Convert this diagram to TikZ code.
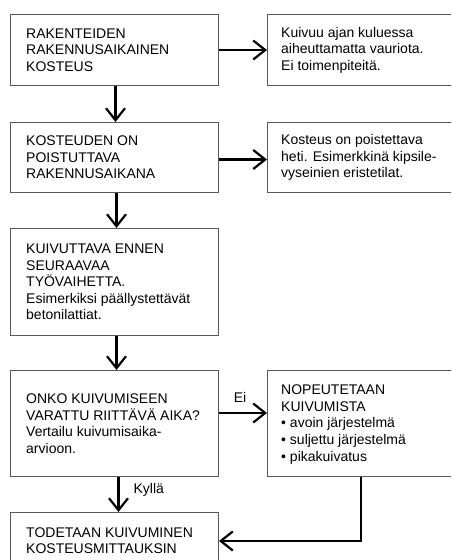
\documentclass[tikz,border=0pt]{standalone}
\usepackage{fontspec}
\setmainfont{Liberation Sans}
\usetikzlibrary{arrows.meta}
\tikzset{
  boxnode/.style={draw=black!65, line width=1pt, inner sep=0pt, anchor=north west},
  txt/.style={anchor=west, align=left, inner sep=0pt, font=\fontsize{14pt}{16.6pt}\selectfont},
  lbl/.style={inner sep=0pt, font=\fontsize{14pt}{16.6pt}\selectfont},
  conn/.style={line width=2.2pt, -{Straight Barb[length=12pt,width=19pt]}}
}
\begin{document}
\begin{tikzpicture}[x=1pt,y=-1pt]
\useasboundingbox (0,0) rectangle (451,560);
\clip (0,0) rectangle (451,560);
% boxes
\node[boxnode, minimum width=208pt, minimum height=71pt] (b1) at (10,14) {};
\node[boxnode, minimum width=200pt, minimum height=71pt] (r1) at (267,14) {};
\node[boxnode, minimum width=208pt, minimum height=70pt] (b2) at (10,122) {};
\node[boxnode, minimum width=200pt, minimum height=70pt] (r2) at (267,122) {};
\node[boxnode, minimum width=208pt, minimum height=107pt] (b3) at (10,228) {};
\node[boxnode, minimum width=208pt, minimum height=106pt] (b4) at (10,370) {};
\node[boxnode, minimum width=200pt, minimum height=106pt] (r4) at (267,370) {};
\node[boxnode, minimum width=208pt, minimum height=56pt] (b5) at (10,512) {};
% texts
\node[txt] (t1) at ([xshift=16pt]b1.west) {RAKENTEIDEN\\RAKENNUSAIKAINEN\\KOSTEUS};
\node[txt] (tr1) at ([xshift=14pt]r1.west) {Kuivuu ajan kuluessa\\aiheuttamatta vauriota.\\Ei toimenpiteitä.};
\node[txt] (t2) at ([xshift=16pt]b2.west) {KOSTEUDEN ON\\POISTUTTAVA\\RAKENNUSAIKANA};
\node[txt] (tr2) at ([xshift=14pt]r2.west) {Kosteus on poistettava\\heti. Esimerkkinä kipsile-\\vyseinien eristetilat.};
\node[txt] (t3) at ([xshift=16pt]b3.west) {KUIVUTTAVA ENNEN\\SEURAAVAA\\TYÖVAIHETTA.\\Esimerkiksi päällystettävät\\betonilattiat.};
\node[txt] (t4) at ([xshift=16pt]b4.west) {ONKO KUIVUMISEEN\\VARATTU RIITTÄVÄ AIKA?\\Vertailu kuivumisaika-\\arvioon.};
\node[txt] (tr4) at ([xshift=14pt,yshift=-1pt]r4.west) {NOPEUTETAAN\\KUIVUMISTA\\• avoin järjestelmä\\• suljettu järjestelmä\\• pikakuivatus};
\node[txt] (t5) at ([xshift=16pt]b5.west) {TODETAAN KUIVUMINEN\\KOSTEUSMITTAUKSIN};
% connectors
\draw[conn] (b1.east) -- (r1.west);
\draw[conn] ([yshift=-2pt]b2.east) -- ([yshift=-2pt]r2.west);
\draw[conn] ([xshift=1pt]b1.south) -- ([xshift=1pt]b2.north);
\draw[conn] ([xshift=2pt]b2.south) -- ([xshift=2pt]b3.north);
\draw[conn] ([xshift=2pt]b3.south) -- ([xshift=2pt]b4.north);
\coordinate (eiy) at (0,413);
\draw[conn] (b4.east |- eiy) -- (r4.west |- eiy) node[lbl, midway, above=9pt, xshift=-3pt] (ei) {Ei};
\draw[conn] ([xshift=4pt]b4.south) -- ([xshift=4pt]b5.north) node[lbl, midway, right=14pt, yshift=5pt] (ky) {Kyllä};
\coordinate (turn) at (361,541);
\draw[conn] (r4.south -| turn) -- (turn) -- (b5.east |- turn);
\end{tikzpicture}
\end{document}
